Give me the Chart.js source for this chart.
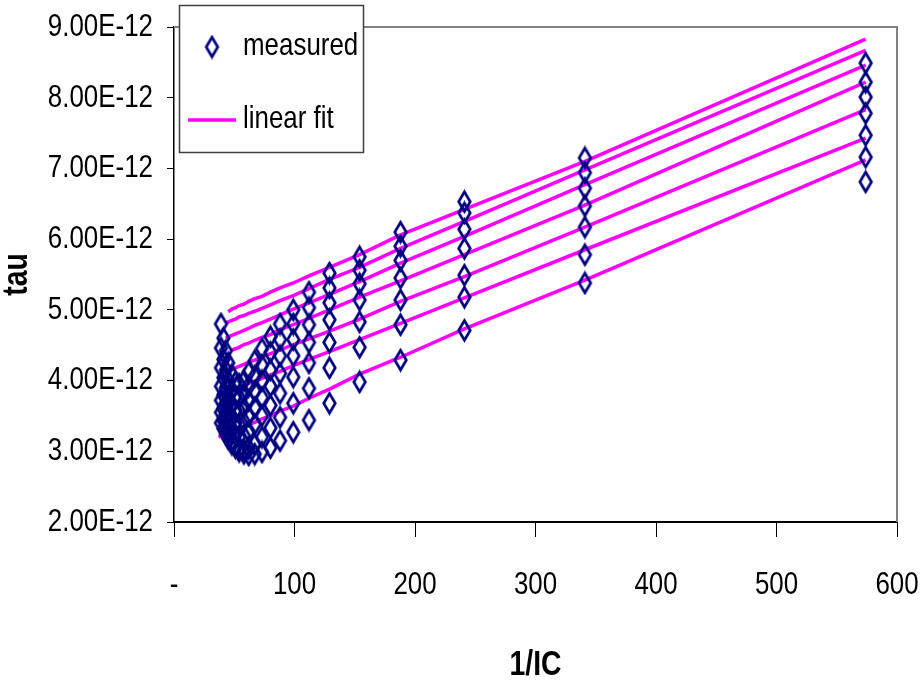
<!DOCTYPE html>
<html>
<head>
<meta charset="utf-8">
<script src="https://cdn.jsdelivr.net/npm/chart.js@4.4.1/dist/chart.umd.min.js"></script>
<style>
  html, body { margin: 0; padding: 0; background: #fff; }
  #wrap { width: 923px; height: 690px; }
</style>
</head>
<body>
<div id="wrap"><canvas id="tauChart" width="923" height="690"></canvas></div>
<script>
// tau values are written in units of 1E-12 s
const PS = 1e-12;

// 1/IC of the measurement columns
const invIc = [574, 341, 241, 188, 154, 129, 112, 99, 88, 80, 73, 67, 62, 58, 54, 51, 48, 45, 43, 41, 39];

// measured tau, one array per curve (top curve first)
const meas1 = [8.49, 7.15, 6.53, 6.10, 5.75, 5.52, 5.25, 5.00, 4.80, 4.62, 4.45, 4.28, 4.12, 4.00, 3.95, 3.98, 4.08, 4.25, 4.42, 4.60, 4.80];
const meas2 = [8.22, 6.94, 6.37, 5.90, 5.56, 5.31, 5.03, 4.80, 4.58, 4.40, 4.22, 4.06, 3.92, 3.82, 3.76, 3.78, 3.86, 4.00, 4.15, 4.30, 4.46];
const meas3 = [8.01, 6.72, 6.14, 5.70, 5.37, 5.10, 4.79, 4.58, 4.35, 4.15, 4.00, 3.85, 3.72, 3.62, 3.57, 3.58, 3.65, 3.78, 3.90, 4.04, 4.18];
const meas4 = [7.78, 6.47, 5.87, 5.45, 5.14, 4.86, 4.54, 4.35, 4.10, 3.92, 3.76, 3.62, 3.50, 3.42, 3.38, 3.40, 3.46, 3.57, 3.68, 3.80, 3.92];
const meas5 = [7.47, 6.17, 5.49, 5.14, 4.83, 4.54, 4.25, 4.05, 3.82, 3.65, 3.50, 3.38, 3.28, 3.22, 3.20, 3.23, 3.30, 3.40, 3.50, 3.60, 3.72];
const meas6 = [7.16, 5.78, 5.18, 4.79, 4.47, 4.18, 3.89, 3.68, 3.48, 3.33, 3.20, 3.10, 3.04, 3.02, 3.04, 3.08, 3.15, 3.25, 3.34, 3.44, 3.55];
const meas7 = [6.81, 5.38, 4.71, 4.29, 3.98, 3.68, 3.44, 3.27, 3.15, 3.05, 2.99, 2.96, 2.95, 2.97, 3.00, 3.05, 3.10, 3.18, 3.25, 3.32, 3.40];

// 1/IC points of the fitted lines
const fitX = [574, 341, 241, 188, 154, 129, 112, 99, 88, 80, 73, 67, 62, 58, 54, 51, 48, 45, 43, 41, 39, 37];

// linear fit, one array per curve (null = line already ended)
const fit1 = [8.83, 7.10, 6.42, 6.06, 5.78, 5.60, 5.48, 5.38, 5.31, 5.25, 5.19, 5.16, 5.12, 5.08, 5.06, 5.03, 5.01, 4.97, null, null, null, null];
const fit2 = [8.67, 6.98, 6.25, 5.87, 5.60, 5.43, 5.30, 5.20, 5.13, 5.07, 5.02, 4.98, 4.95, 4.92, 4.90, 4.87, 4.85, 4.83, 4.81, null, null, null];
const fit3 = [8.46, 6.77, 6.04, 5.66, 5.40, 5.22, 5.10, 5.01, 4.93, 4.87, 4.82, 4.78, 4.74, 4.71, 4.68, 4.66, 4.64, 4.62, 4.60, null, null, null];
const fit4 = [8.22, 6.48, 5.78, 5.41, 5.18, 5.00, 4.88, 4.79, 4.72, 4.65, 4.61, 4.57, 4.53, 4.51, 4.47, 4.45, 4.43, null, null, null, null, null];
const fit5 = [7.83, 6.17, 5.47, 5.12, 4.87, 4.70, 4.59, 4.51, 4.43, 4.38, 4.33, 4.29, 4.26, 4.23, 4.20, 4.18, 4.16, 4.14, null, null, null, null];
const fit6 = [7.43, 5.85, 5.17, 4.81, 4.58, 4.41, 4.30, 4.21, 4.13, 4.08, 4.03, 3.99, 3.96, 3.93, 3.91, 3.89, 3.86, 3.84, null, null, null, null];
const fit7 = [7.12, 5.42, 4.73, 4.33, 4.09, 3.88, 3.75, 3.64, 3.57, 3.50, 3.46, 3.41, 3.38, 3.35, 3.32, 3.30, 3.28, 3.26, 3.25, 3.23, 3.22, 3.20];

// axis ticks
const xTicks = [0, 100, 200, 300, 400, 500, 600];
const yTicks = [2, 3, 4, 5, 6, 7, 8, 9];

const FONT = "'Liberation Sans', Arial, sans-serif";
const NAVY = '#000080';
const MAGENTA = '#ff00ff';
// no Arial Narrow installed: squeeze Liberation Sans horizontally instead
const SQUEEZE = 0.81;

// tall hollow diamond used as marker
function makeDiamond(w, h, color, lw) {
    const c = document.createElement('canvas');
    c.width = w;
    c.height = h;
    const g = c.getContext('2d');
    g.strokeStyle = color;
    g.lineWidth = lw;
    g.beginPath();
    g.moveTo(w / 2, lw);
    g.lineTo(w - lw, h / 2);
    g.lineTo(w / 2, h - lw);
    g.lineTo(lw, h / 2);
    g.closePath();
    g.stroke();
    return c;
}
const diamond = makeDiamond(17, 25, NAVY, 2.7);

const measured = [meas1, meas2, meas3, meas4, meas5, meas6, meas7];
const fits = [fit1, fit2, fit3, fit4, fit5, fit6, fit7];

const datasets = [];
fits.forEach(function(f) {
    datasets.push({
        type: 'line',
        label: 'linear fit',
        data: fitX.map(function(x, i) { return { x: x, y: f[i] === null ? null : f[i] * PS }; }),
        borderColor: MAGENTA,
        borderWidth: 3.5,
        pointRadius: 0,
        tension: 0,
        spanGaps: false,
        order: 2
    });
});
measured.forEach(function(m) {
    datasets.push({
        type: 'scatter',
        label: 'measured',
        data: invIc.map(function(x, i) { return { x: x, y: m[i] * PS }; }),
        pointStyle: diamond,
        pointRadius: 8,
        showLine: false,
        order: 1
    });
});

// condensed text, like the Arial Narrow of the original
const condense = {
    id: 'condense',
    beforeInit(chart) {
        const ctx = chart.ctx;
        const orig = ctx.fillText.bind(ctx);
        ctx.fillText = function(t, x, y) {
            ctx.save();
            ctx.translate(x, y);
            ctx.scale(SQUEEZE, 1);
            orig(t, 0, 0);
            ctx.restore();
        };
    }
};

// gray frame on top and right of the plot
const frame = {
    id: 'frame',
    beforeDatasetsDraw(chart) {
        const a = chart.chartArea;
        const ctx = chart.ctx;
        ctx.save();
        ctx.strokeStyle = '#808080';
        ctx.lineWidth = 2;
        ctx.beginPath();
        ctx.moveTo(a.left, a.top);
        ctx.lineTo(a.right, a.top);
        ctx.lineTo(a.right, a.bottom);
        ctx.stroke();
        ctx.restore();
    }
};

// Excel style legend box, overlapping the top left of the plot
const legendBox = {
    id: 'legendBox',
    afterDraw(chart) {
        const ctx = chart.ctx;
        ctx.save();
        ctx.fillStyle = '#fff';
        ctx.fillRect(179, 5, 184, 147);
        ctx.strokeStyle = '#404040';
        ctx.lineWidth = 1.5;
        ctx.strokeRect(179.5, 5.5, 184, 147);
        ctx.drawImage(diamond, 212 - 8.5, 47 - 12.5);
        ctx.strokeStyle = MAGENTA;
        ctx.lineWidth = 3.5;
        ctx.beginPath();
        ctx.moveTo(188, 120);
        ctx.lineTo(236, 120);
        ctx.stroke();
        ctx.fillStyle = '#000';
        ctx.font = '32px ' + FONT;
        ctx.textBaseline = 'middle';
        ctx.fillText('measured', 243, 46);
        ctx.fillText('linear fit', 243, 119);
        ctx.restore();
    }
};

new Chart(document.getElementById('tauChart'), {
    type: 'scatter',
    data: { datasets: datasets },
    options: {
        responsive: false,
        animation: false,
        layout: { padding: { top: 27, right: 26, left: 0, bottom: 0 } },
        plugins: {
            legend: { display: false },
            tooltip: { enabled: false }
        },
        scales: {
            x: {
                type: 'linear',
                min: 0,
                max: 600,
                afterFit: function(s) { s.height = 168; s.paddingLeft = 0; s.paddingRight = 0; },
                afterBuildTicks: function(s) { s.ticks = xTicks.map(function(v) { return { value: v }; }); },
                border: { display: true, color: '#000', width: 2 },
                grid: { drawOnChartArea: false, drawTicks: true, tickLength: 15, color: '#000', lineWidth: 1 },
                ticks: {
                    color: '#000',
                    padding: 29,
                    maxRotation: 0,
                    autoSkip: false,
                    font: { size: 32, family: FONT },
                    callback: function(v) { return v === 0 ? '-' : String(v); }
                },
                title: {
                    display: true,
                    text: '1/IC',
                    color: '#000',
                    padding: { top: 0, bottom: 4 },
                    font: { size: 35, weight: 'bold', family: FONT }
                }
            },
            y: {
                type: 'linear',
                min: 2 * PS,
                max: 9 * PS,
                afterFit: function(s) { s.width = 174; s.paddingTop = 0; s.paddingBottom = 0; },
                afterBuildTicks: function(s) { s.ticks = yTicks.map(function(v) { return { value: v * PS }; }); },
                border: { display: true, color: '#000', width: 1.5 },
                grid: { drawOnChartArea: false, drawTicks: true, tickLength: 7, color: '#000', lineWidth: 1 },
                ticks: {
                    color: '#000',
                    padding: 14,
                    autoSkip: false,
                    font: { size: 32, family: FONT },
                    callback: function(v) { return (v / PS).toFixed(2) + 'E-12'; }
                },
                title: {
                    display: true,
                    text: 'tau',
                    color: '#000',
                    padding: { top: 0, bottom: 0 },
                    font: { size: 35, weight: 'bold', family: FONT, lineHeight: 1.0 }
                }
            }
        }
    },
    plugins: [condense, frame, legendBox]
});
</script>
</body>
</html>
